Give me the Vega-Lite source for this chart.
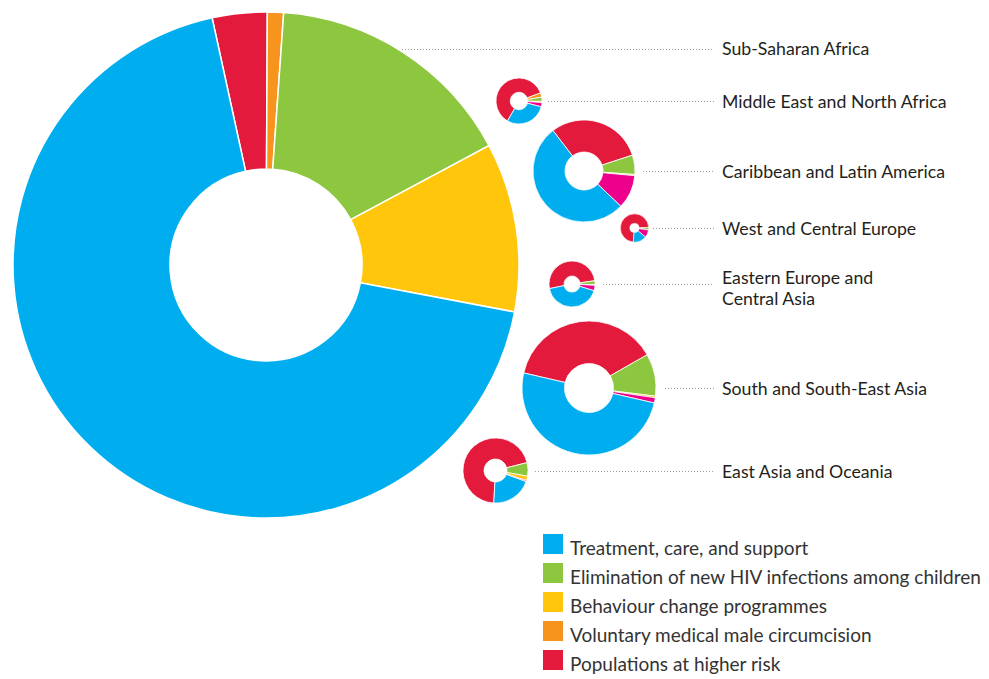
{
  "$schema": "https://vega.github.io/schema/vega-lite/v6.json",
  "width": 989,
  "height": 679,
  "padding": 0,
  "autosize": {"type": "none"},
  "background": "white",
  "config": {"view": {"stroke": null}, "font": "Lato"},
  "datasets": {
    "spending": [
      {"region": "Sub-Saharan Africa", "category": "Populations at higher risk", "value": 224},
      {"region": "Sub-Saharan Africa", "category": "Voluntary medical male circumcision", "value": 66},
      {"region": "Sub-Saharan Africa", "category": "Elimination of new HIV infections among children", "value": 1028},
      {"region": "Sub-Saharan Africa", "category": "Behaviour change programmes", "value": 691},
      {"region": "Sub-Saharan Africa", "category": "Treatment, care, and support", "value": 4391},
      {"region": "Middle East and North Africa", "category": "Populations at higher risk", "value": 32.3},
      {"region": "Middle East and North Africa", "category": "Voluntary medical male circumcision", "value": 1.6},
      {"region": "Middle East and North Africa", "category": "Elimination of new HIV infections among children", "value": 1.6},
      {"region": "Middle East and North Africa", "category": "Behaviour change programmes", "value": 0.4},
      {"region": "Middle East and North Africa", "category": "Other", "value": 1.6},
      {"region": "Middle East and North Africa", "category": "Treatment, care, and support", "value": 15.5},
      {"region": "Caribbean and Latin America", "category": "Populations at higher risk", "value": 79.0},
      {"region": "Caribbean and Latin America", "category": "Elimination of new HIV infections among children", "value": 15.9},
      {"region": "Caribbean and Latin America", "category": "Behaviour change programmes", "value": 1.0},
      {"region": "Caribbean and Latin America", "category": "Other", "value": 27.8},
      {"region": "Caribbean and Latin America", "category": "Treatment, care, and support", "value": 136.3},
      {"region": "West and Central Europe", "category": "Populations at higher risk", "value": 14.6},
      {"region": "West and Central Europe", "category": "Elimination of new HIV infections among children", "value": 0.5},
      {"region": "West and Central Europe", "category": "Behaviour change programmes", "value": 0.1},
      {"region": "West and Central Europe", "category": "Other", "value": 1.7},
      {"region": "West and Central Europe", "category": "Treatment, care, and support", "value": 3.1},
      {"region": "Eastern Europe and Central Asia", "category": "Populations at higher risk", "value": 27.0},
      {"region": "Eastern Europe and Central Asia", "category": "Elimination of new HIV infections among children", "value": 1.5},
      {"region": "Eastern Europe and Central Asia", "category": "Behaviour change programmes", "value": 0.2},
      {"region": "Eastern Europe and Central Asia", "category": "Other", "value": 2.0},
      {"region": "Eastern Europe and Central Asia", "category": "Treatment, care, and support", "value": 22.3},
      {"region": "South and South-East Asia", "category": "Populations at higher risk", "value": 171.1},
      {"region": "South and South-East Asia", "category": "Elimination of new HIV infections among children", "value": 45.8},
      {"region": "South and South-East Asia", "category": "Behaviour change programmes", "value": 1.8},
      {"region": "South and South-East Asia", "category": "Other", "value": 5.6},
      {"region": "South and South-East Asia", "category": "Treatment, care, and support", "value": 224.5},
      {"region": "East Asia and Oceania", "category": "Populations at higher risk", "value": 74.5},
      {"region": "East Asia and Oceania", "category": "Elimination of new HIV infections among children", "value": 7.1},
      {"region": "East Asia and Oceania", "category": "Behaviour change programmes", "value": 2.3},
      {"region": "East Asia and Oceania", "category": "Other", "value": 0.6},
      {"region": "East Asia and Oceania", "category": "Treatment, care, and support", "value": 21.5}
    ],
    "regions": [
      {"region": "Sub-Saharan Africa", "idx": 1, "label": "Sub-Saharan Africa"},
      {"region": "Middle East and North Africa", "idx": 2, "label": "Middle East and North Africa"},
      {"region": "Caribbean and Latin America", "idx": 3, "label": "Caribbean and Latin America"},
      {"region": "West and Central Europe", "idx": 4, "label": "West and Central Europe"},
      {"region": "Eastern Europe and Central Asia", "idx": 5, "label": "Eastern Europe and\nCentral Asia"},
      {"region": "South and South-East Asia", "idx": 6, "label": "South and South-East Asia"},
      {"region": "East Asia and Oceania", "idx": 7, "label": "East Asia and Oceania"}
    ],
    "categories": [
      {"category": "Populations at higher risk", "corder": 1},
      {"category": "Voluntary medical male circumcision", "corder": 2},
      {"category": "Elimination of new HIV infections among children", "corder": 3},
      {"category": "Behaviour change programmes", "corder": 4},
      {"category": "Other", "corder": 5},
      {"category": "Treatment, care, and support", "corder": 6}
    ]
  },
  "layer": [
    {
      "data": {"name": "spending"},
      "transform": [
        {"lookup": "region", "from": {"data": {"name": "regions"}, "key": "region", "fields": ["idx"]}},
        {"lookup": "category", "from": {"data": {"name": "categories"}, "key": "category", "fields": ["corder"]}},
        {"joinaggregate": [{"op": "sum", "field": "value", "as": "total"}], "groupby": ["region"]}
      ],
      "encoding": {
        "x": {"field": "idx", "type": "quantitative", "axis": null,
              "scale": {"domain": [1, 2, 3, 4, 5, 6, 7], "range": [266, 519, 584, 634.5, 572, 589, 495.5], "zero": false, "nice": false}},
        "y": {"field": "idx", "type": "quantitative", "axis": null,
              "scale": {"domain": [1, 2, 3, 4, 5, 6, 7], "range": [265, 101, 171, 228, 284, 388, 470.5], "zero": false, "nice": false}},
        "radius": {"field": "total", "type": "quantitative", "scale": {"type": "sqrt", "zero": true, "range": [0, 253]}},
        "color": {
          "field": "category", "type": "nominal",
          "scale": {
            "domain": ["Treatment, care, and support", "Elimination of new HIV infections among children", "Behaviour change programmes", "Voluntary medical male circumcision", "Populations at higher risk", "Other"],
            "range": ["#00aeef", "#8dc63f", "#ffc60b", "#f7941d", "#e31a3b", "#ec008c"]
          },
          "legend": {
            "orient": "none", "legendX": 543, "legendY": 538.8, "title": null, "padding": 0,
            "values": ["Treatment, care, and support", "Elimination of new HIV infections among children", "Behaviour change programmes", "Voluntary medical male circumcision", "Populations at higher risk"],
            "symbolType": "M-1,-1.48H1V0.52H-1Z", "symbolSize": 400, "symbolStrokeWidth": 0, "symbolOpacity": 1,
            "labelFont": "Lato", "labelFontSize": 19, "labelColor": "#333333", "labelLimit": 600,
            "labelOffset": 7, "rowPadding": 4
          }
        },
        "order": {"field": "corder", "type": "quantitative", "sort": "ascending"}
      },
      "layer": [
        {"transform": [{"filter": {"field": "region", "equal": "Sub-Saharan Africa"}}],
         "mark": {"type": "arc", "stroke": "white", "strokeWidth": 1.5, "innerRadius": 96},
         "encoding": {"theta": {"field": "value", "type": "quantitative", "stack": true, "scale": {"range": [6.0685, 12.3517]}}}},
        {"transform": [{"filter": {"field": "region", "equal": "Middle East and North Africa"}}],
         "mark": {"type": "arc", "stroke": "white", "strokeWidth": 0.8, "innerRadius": 8.7},
         "encoding": {"theta": {"field": "value", "type": "quantitative", "stack": true, "scale": {"range": [3.6652, 9.9484]}}}},
        {"transform": [{"filter": {"field": "region", "equal": "Caribbean and Latin America"}}],
         "mark": {"type": "arc", "stroke": "white", "strokeWidth": 0.8, "innerRadius": 19},
         "encoding": {"theta": {"field": "value", "type": "quantitative", "stack": true, "scale": {"range": [5.6287, 11.9119]}}}},
        {"transform": [{"filter": {"field": "region", "equal": "West and Central Europe"}}],
         "mark": {"type": "arc", "stroke": "white", "strokeWidth": 0.6, "innerRadius": 4.6},
         "encoding": {"theta": {"field": "value", "type": "quantitative", "stack": true, "scale": {"range": [3.2289, 9.5121]}}}},
        {"transform": [{"filter": {"field": "region", "equal": "Eastern Europe and Central Asia"}}],
         "mark": {"type": "arc", "stroke": "white", "strokeWidth": 0.8, "innerRadius": 8},
         "encoding": {"theta": {"field": "value", "type": "quantitative", "stack": true, "scale": {"range": [4.5099, 10.7931]}}}},
        {"transform": [{"filter": {"field": "region", "equal": "South and South-East Asia"}}],
         "mark": {"type": "arc", "stroke": "white", "strokeWidth": 0.8, "innerRadius": 24.5},
         "encoding": {"theta": {"field": "value", "type": "quantitative", "stack": true, "scale": {"range": [4.9393, 11.2225]}}}},
        {"transform": [{"filter": {"field": "region", "equal": "East Asia and Oceania"}}],
         "mark": {"type": "arc", "stroke": "white", "strokeWidth": 0.8, "innerRadius": 11.5},
         "encoding": {"theta": {"field": "value", "type": "quantitative", "stack": true, "scale": {"range": [3.1940, 9.4772]}}}}
      ],
      "resolve": {"scale": {"theta": "independent"}}
    },
    {
      "data": {"name": "regions"},
      "mark": {"type": "rule", "stroke": "#9b9b9b", "strokeWidth": 1, "strokeDash": [1, 2]},
      "encoding": {
        "x": {"field": "idx", "type": "quantitative", "axis": null,
              "scale": {"domain": [0, 1, 2, 3, 4, 5, 6, 7], "range": [714, 402, 548, 643, 653, 603, 665, 535], "zero": false, "nice": false}},
        "x2": {"datum": 0},
        "y": {"field": "idx", "type": "quantitative", "axis": null,
              "scale": {"domain": [1, 2, 3, 4, 5, 6, 7], "range": [49.5, 101.5, 171.5, 228.5, 284.5, 388.5, 471.5], "zero": false, "nice": false}}
      }
    },
    {
      "data": {"name": "regions"},
      "mark": {"type": "text", "align": "left", "baseline": "middle", "font": "Lato", "fontSize": 17.7, "color": "#231f20", "lineBreak": "\n", "lineHeight": 21},
      "encoding": {
        "x": {"field": "idx", "type": "quantitative", "axis": null,
              "scale": {"domain": [1, 7], "range": [722, 722], "zero": false, "nice": false}},
        "y": {"field": "idx", "type": "quantitative", "axis": null,
              "scale": {"domain": [1, 2, 3, 4, 5, 6, 7], "range": [50, 103, 173, 230, 279, 390, 473], "zero": false, "nice": false}},
        "text": {"field": "label"}
      }
    }
  ],
  "resolve": {"scale": {"x": "independent", "y": "independent", "theta": "independent"}}
}
